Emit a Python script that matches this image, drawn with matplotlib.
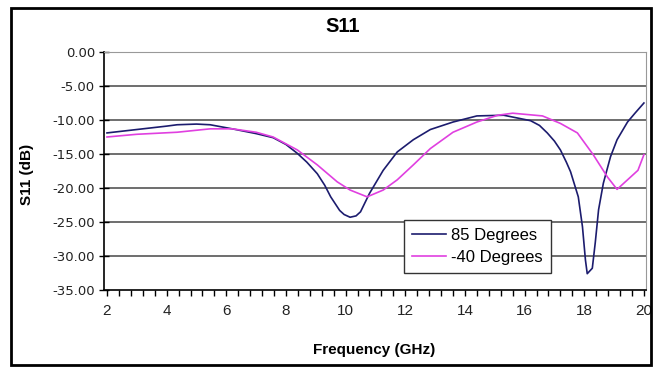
import matplotlib
matplotlib.use("Agg")
import matplotlib.pyplot as plt
from matplotlib.patches import Rectangle
from matplotlib.ticker import FormatStrFormatter, MultipleLocator

# 85 degree sweep
freq_85 = [2, 3, 4, 4.35, 5, 5.46, 6.2, 7, 7.57, 8, 8.38, 8.7, 9.05, 9.3,
           9.5, 9.8, 9.95, 10.15, 10.35, 10.5, 10.8, 11.26, 11.73, 12.27,
           12.84, 13.6, 14.4, 15.3, 16.2, 16.5, 16.76, 17.0, 17.2, 17.4,
           17.54, 17.8, 17.94, 18.04, 18.1, 18.27, 18.37, 18.48, 18.64, 18.88,
           19.1, 19.45, 19.7, 20.0]
s11_85 = [-11.9, -11.4, -10.9, -10.7, -10.6, -10.7, -11.3, -12.0, -12.6,
          -13.6, -14.9, -16.2, -17.9, -19.6, -21.3, -23.3, -23.9, -24.3,
          -24.1, -23.5, -20.8, -17.4, -14.7, -12.9, -11.4, -10.3, -9.4,
          -9.3, -10.1, -10.8, -11.9, -13.1, -14.4, -16.2, -17.6, -21.3,
          -25.7, -30.6, -32.6, -31.8, -28.0, -23.2, -19.3, -15.4, -12.9,
          -10.3, -9.0, -7.5]

# -40 degree sweep
freq_m40 = [2, 3, 4.35, 5.46, 6.2, 7, 7.57, 8.38, 9.05, 9.72, 10.15, 10.72,
            11.26, 11.73, 12.27, 12.84, 13.6, 14.4, 15.1, 15.6, 16.6, 17.2,
            17.77, 18.3, 18.78, 19.1, 19.45, 19.8, 20.0]
s11_m40 = [-12.5, -12.1, -11.8, -11.3, -11.3, -11.8, -12.5, -14.4, -16.6,
           -19.1, -20.3, -21.3, -20.3, -18.8, -16.6, -14.2, -11.8, -10.3,
           -9.3, -9.0, -9.4, -10.5, -11.9, -15.1, -18.4, -20.2, -18.8,
           -17.4, -15.1]

series_labels = ["85 Degrees", "-40 Degrees"]
y_ticks = [0, -5, -10, -15, -20, -25, -30, -35]
x_ticks = [2, 4, 6, 8, 10, 12, 14, 16, 18, 20]

W, H = 656, 367


def plot_s11() -> None:
  fig = plt.figure(figsize=(W / 100, H / 100), dpi=100)
  ax = fig.add_axes([104 / W, 1 - 290 / H, (646 - 104) / W, (290 - 52) / H])

  for y in y_ticks[1:-1]:
    ax.axhline(y, color="#555555", lw=1.2, zorder=1)

  ax.plot(freq_85, s11_85, color="#1c1c6e", lw=1.2, label=series_labels[0], zorder=3)
  ax.plot(freq_m40, s11_m40, color="#e040e0", lw=1.2, label=series_labels[1], zorder=3)

  ax.set_xlim(1.9, 20.07)
  ax.set_ylim(-35, 0)
  ax.set_yticks(y_ticks)
  ax.yaxis.set_major_formatter(FormatStrFormatter("%.2f"))
  ax.set_xticks(x_ticks)
  ax.xaxis.set_minor_locator(MultipleLocator(0.4))

  for side in ("top", "right"):
    ax.spines[side].set_color("#999999")
  for side in ("left", "bottom"):
    ax.spines[side].set_color("black")
    ax.spines[side].set_linewidth(1.2)

  ax.tick_params(axis="y", direction="inout", length=7, width=1, pad=3,
                 labelsize=9.5, labelcolor="#222222")
  ax.tick_params(axis="x", which="both", direction="out", length=4, width=1,
                 pad=6, labelsize=11, labelcolor="#222222")
  for lbl in ax.get_yticklabels():
    lbl.set_family("DejaVu Sans")
  for lbl in ax.get_xticklabels():
    lbl.set_family("Liberation Sans")

  fig.text(343 / W, 1 - 27 / H, "S11", ha="center", va="center",
           fontsize=14.5, fontweight="bold", family="Liberation Sans")
  fig.text(374 / W, 1 - 350 / H, "Frequency (GHz)", ha="center", va="center",
           fontsize=11, fontweight="bold", family="Liberation Sans")
  fig.text(27 / W, 1 - 174 / H, "S11 (dB)", ha="center", va="center",
           rotation=90, fontsize=11, fontweight="bold", family="Liberation Sans")

  leg = ax.legend(loc="upper left", bbox_to_anchor=(404 / W, 1 - 220 / H),
                  bbox_transform=fig.transFigure, frameon=True, fancybox=False,
                  prop={"family": "Liberation Sans", "size": 12},
                  handlelength=2.0, handletextpad=0.3, borderpad=0.5,
                  labelspacing=0.4, borderaxespad=0)
  leg.get_frame().set_edgecolor("#333333")
  leg.get_frame().set_linewidth(1.0)
  leg.get_frame().set_alpha(1)

  fig.add_artist(Rectangle((11 / W, 1 - 365 / H), (651 - 11) / W, (365 - 8) / H,
                           transform=fig.transFigure, fill=False,
                           edgecolor="black", lw=2))

  fig.savefig("out.png", dpi=100)
  plt.close(fig)


if __name__ == "__main__":
  plot_s11()
